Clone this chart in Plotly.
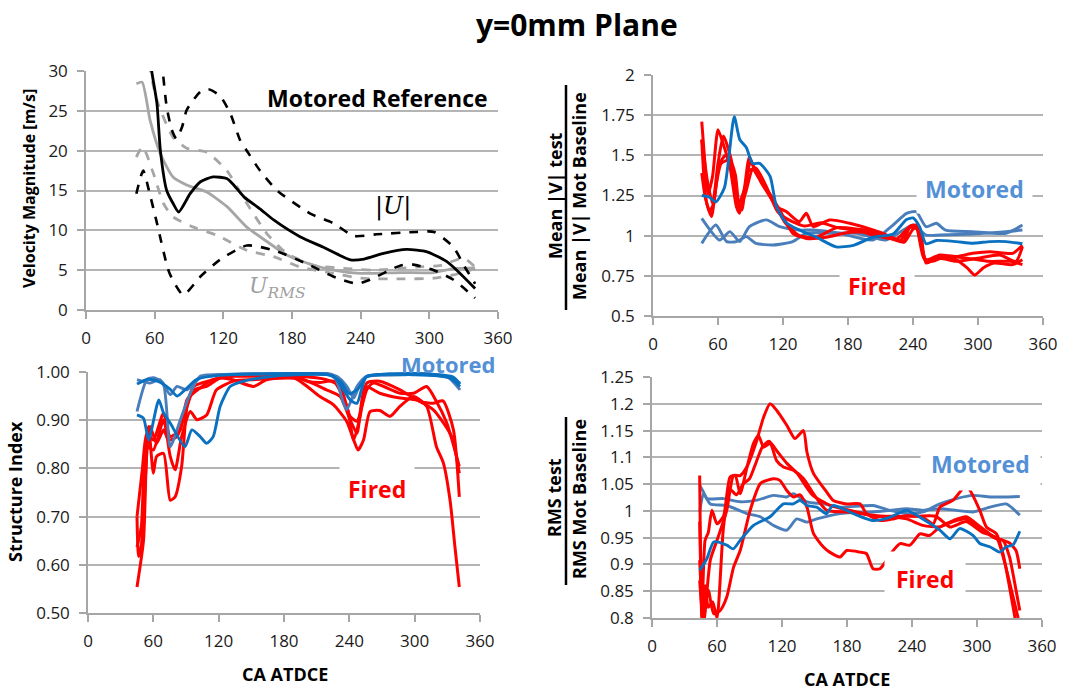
import plotly.graph_objects as go

W, H = 1082, 690

# ---------------- DATA ----------------
# Top-left: velocity magnitude [m/s], motored reference
tl_umean_x = [55, 57.4, 62, 65, 70.5, 76, 81, 91, 100, 111, 123, 129, 138, 152, 164, 187, 207, 231, 243, 260, 280, 298, 315, 324, 340]
tl_umean_y = [33, 30, 25.9, 20, 15, 13.4, 12.3, 14.6, 16.1, 16.7, 16.5, 15.7, 14.2, 12.7, 11.3, 9.2, 7.9, 6.3, 6.4, 7.1, 7.6, 7.3, 6.1, 5.0, 2.7]
tl_uhi_x = [62, 67, 70.5, 75, 79, 84, 88, 100, 107, 117, 126, 134.7, 140.5, 152, 167, 196, 216, 234, 254, 289, 304, 321, 331, 340]
tl_uhi_y = [36, 30, 25.5, 22.6, 21.5, 23, 25.1, 27.4, 27.7, 26.9, 24.7, 21.3, 20, 17.5, 15, 12.1, 10.9, 9.3, 9.5, 9.8, 9.8, 7.9, 5.4, 3.3]
tl_ulo_x = [44, 50, 55, 62, 73, 85, 100, 117, 140.5, 164, 193, 216, 237, 248, 275, 286, 304, 321, 340]
tl_ulo_y = [14.6, 17.5, 15, 10.9, 4.6, 1.9, 4.2, 6.3, 8.1, 7.5, 5.8, 4.2, 3.3, 3.8, 5.6, 5.7, 5.0, 3.8, 1.5]
tl_rms_x = [44, 49, 56, 65, 76, 88, 105.5, 123, 140.5, 158, 175.5, 193, 216, 240, 275, 304, 321, 340]
tl_rms_y = [28.4, 28.6, 23.8, 19.6, 16.7, 15.7, 14.8, 13, 10.4, 8.6, 6.9, 5.9, 5.0, 4.6, 4.7, 4.7, 5.2, 5.3]
tl_rmshi_x = [55, 62, 76, 88, 105.5, 123, 140.5, 158, 175.5, 199, 228, 251, 289, 310, 330, 340]
tl_rmshi_y = [31, 26.3, 21.7, 20.3, 19.8, 17.5, 13.4, 9.6, 7.1, 5.6, 5.2, 5.0, 5.4, 5.6, 6.5, 5.4]
tl_rmslo_x = [44, 49.5, 59, 67.6, 76, 94, 114, 140.5, 164, 187, 216, 240, 275, 304, 321, 340]
tl_rmslo_y = [19.2, 20.5, 17.1, 13.4, 11.7, 10.4, 9.4, 7.5, 6.7, 5.4, 4.6, 4.0, 3.9, 4.0, 4.4, 5.2]

# Top-right: mean |V| ratio
tr_mot_dark_x = [45, 52, 58, 66, 75, 80, 86, 92, 98.5, 108, 114, 123, 135, 151, 169, 185, 203, 221.5, 234, 240, 246, 252, 261.5, 280, 295, 311, 326, 341]
tr_mot_dark_y = [1.25, 1.24, 1.21, 1.30, 1.74, 1.60, 1.55, 1.45, 1.45, 1.37, 1.18, 1.08, 1.035, 0.99, 0.93, 0.94, 0.99, 1.01, 1.10, 1.11, 1.056, 0.95, 0.97, 0.963, 0.953, 0.963, 0.963, 0.95]
tr_mot_a_x = [45, 61.5, 71, 80, 89, 104.6, 117, 135, 148, 172, 203, 221.5, 234, 243, 252, 261.5, 270, 295, 326, 341]
tr_mot_a_y = [1.108, 0.973, 1.025, 0.963, 1.056, 1.098, 1.056, 1.035, 1.035, 1.015, 0.973, 1.066, 1.139, 1.149, 1.056, 1.077, 1.035, 1.025, 1.015, 1.066]
tr_mot_b_x = [45, 58, 68, 77, 86, 95, 111, 129, 141.5, 163, 188, 215, 231, 240, 252, 265, 295, 326, 341]
tr_mot_b_y = [0.952, 1.066, 0.963, 0.963, 0.994, 0.952, 0.942, 0.963, 1.015, 1.015, 1.015, 0.973, 1.035, 1.066, 1.004, 1.004, 1.01, 1.025, 1.035]
tr_fir1_x = [45, 47.7, 50.8, 55, 60, 64.6, 71, 77, 80, 84.6, 89, 95, 104.6, 114, 123, 135, 141.5, 148, 163, 181.5, 203, 218.5, 231, 237, 243, 252, 264.6, 280, 295, 311, 332, 341]
tr_fir1_y = [1.71, 1.47, 1.26, 1.37, 1.66, 1.575, 1.43, 1.18, 1.14, 1.305, 1.49, 1.39, 1.285, 1.18, 1.15, 1.087, 1.139, 1.056, 1.098, 1.077, 1.035, 0.994, 0.963, 1.056, 1.066, 0.85, 0.88, 0.87, 0.89, 0.90, 0.89, 0.94]
tr_fir2_x = [45, 49, 54, 58, 63, 71, 76, 80, 86, 92, 104, 117, 129, 141.5, 160, 180, 200, 220, 232, 240, 246, 252, 265, 280, 290, 297, 305, 315, 332, 341]
tr_fir2_y = [1.595, 1.22, 1.12, 1.30, 1.45, 1.47, 1.38, 1.16, 1.28, 1.41, 1.30, 1.16, 1.015, 0.983, 0.99, 1.02, 1.02, 0.98, 0.96, 1.04, 1.05, 0.83, 0.87, 0.85, 0.80, 0.755, 0.80, 0.83, 0.82, 0.85]
tr_fir3_x = [45, 48, 52, 56, 61, 67, 73, 79, 85, 90, 100, 112, 122, 135, 150, 170, 190, 210, 228, 237, 243, 250, 258, 270, 290, 310, 330, 341]
tr_fir3_y = [1.39, 1.25, 1.15, 1.20, 1.44, 1.50, 1.42, 1.20, 1.30, 1.46, 1.33, 1.20, 1.08, 1.00, 0.99, 1.05, 1.04, 1.02, 0.97, 1.05, 1.05, 0.86, 0.84, 0.87, 0.86, 0.84, 0.84, 0.82]
tr_fir4_x = [45, 50, 55, 60, 65, 72, 78, 82, 88, 95, 105, 115, 125, 140, 155, 170, 190, 205, 225, 238, 244, 252, 265, 280, 300, 320, 335, 341]
tr_fir4_y = [1.60, 1.35, 1.20, 1.45, 1.62, 1.48, 1.22, 1.16, 1.40, 1.42, 1.30, 1.15, 1.10, 1.06, 1.08, 1.05, 1.03, 1.00, 0.98, 1.06, 1.04, 0.84, 0.86, 0.84, 0.86, 0.88, 0.84, 0.93]

# Bottom-left: structure index
bl_mot_a_x = [45, 57, 66, 75.5, 81.7, 91, 103, 118, 140, 180, 210, 228.5, 237.7, 244, 250, 256, 290, 305, 332.5, 341.7]
bl_mot_a_y = [0.984, 0.977, 0.984, 0.953, 0.970, 0.963, 0.988, 0.994, 0.996, 0.997, 0.996, 0.991, 0.970, 0.946, 0.977, 0.991, 0.994, 0.997, 0.9875, 0.977]
bl_mot_b_x = [45, 54, 60, 69, 75.5, 84.7, 94, 103, 130, 180, 225, 234.6, 237.7, 247, 256, 300, 330, 341.7]
bl_mot_b_y = [0.918, 0.984, 0.988, 0.977, 0.845, 0.900, 0.956, 0.991, 0.995, 0.996, 0.994, 0.935, 0.922, 0.970, 0.991, 0.996, 0.99, 0.963]
bl_mot_c_x = [45, 51, 55.7, 65, 69.4, 75.5, 89, 95.4, 103, 109, 115, 121.4, 130.6, 143, 158, 180, 225, 234.6, 240.7, 247, 256, 300, 332, 341.7]
bl_mot_c_y = [0.911, 0.904, 0.859, 0.942, 0.915, 0.894, 0.845, 0.880, 0.866, 0.852, 0.866, 0.929, 0.970, 0.981, 0.9875, 0.993, 0.992, 0.963, 0.942, 0.935, 0.991, 0.994, 0.988, 0.970]
bl_mot_d_x = [45, 55, 65, 75, 82, 90, 100, 120, 160, 220, 232, 240, 248, 256, 300, 335, 341.7]
bl_mot_d_y = [0.975, 0.985, 0.98, 0.965, 0.95, 0.965, 0.985, 0.993, 0.996, 0.995, 0.98, 0.955, 0.965, 0.99, 0.997, 0.99, 0.975]
bl_fir1_x = [45, 51, 54, 57, 63, 69.4, 74, 81.7, 91, 97, 109, 121.4, 133, 152, 164, 190, 213, 225.5, 237.7, 244, 248, 253, 259, 268, 277.5, 286.6, 299, 311, 320, 326.4, 332.5, 337, 341]
bl_fir1_y = [0.554, 0.651, 0.838, 0.887, 0.852, 0.880, 0.859, 0.866, 0.929, 0.963, 0.970, 0.9875, 0.984, 0.970, 0.984, 0.987, 0.949, 0.932, 0.897, 0.859, 0.838, 0.859, 0.918, 0.92, 0.908, 0.929, 0.949, 0.929, 0.845, 0.811, 0.734, 0.637, 0.554]
bl_fir2_x = [45, 46.5, 49, 53, 55.7, 60, 63, 69.4, 75.5, 80, 86, 91, 97, 115, 133.7, 180, 190, 201, 213, 225.5, 237.7, 244, 250, 256, 268, 286.6, 304.7, 317, 326, 335.6, 341]
bl_fir2_y = [0.70, 0.617, 0.64, 0.79, 0.887, 0.79, 0.825, 0.831, 0.734, 0.741, 0.804, 0.929, 0.970, 0.984, 0.9945, 0.992, 0.992, 0.981, 0.978, 0.981, 0.929, 0.859, 0.908, 0.977, 0.981, 0.963, 0.939, 0.935, 0.94, 0.880, 0.741]
bl_fir3_x = [45, 49, 54, 60, 69.4, 75.5, 80, 86, 94, 100, 109, 118, 133.7, 152, 194, 219, 231.6, 240.7, 247, 254.5, 268, 286.6, 302, 317, 329.5, 335, 341]
bl_fir3_y = [0.637, 0.68, 0.845, 0.838, 0.901, 0.825, 0.797, 0.866, 0.918, 0.901, 0.911, 0.963, 0.981, 0.984, 0.987, 0.963, 0.949, 0.901, 0.873, 0.970, 0.956, 0.946, 0.942, 0.922, 0.884, 0.86, 0.79]
bl_fir4_x = [45, 50, 54, 60, 69.4, 75.5, 84.7, 91, 103, 115, 134, 164, 194, 219, 231.6, 240.7, 247, 256, 262, 286.6, 299, 311, 320, 329.5, 341]
bl_fir4_y = [0.70, 0.80, 0.873, 0.859, 0.915, 0.866, 0.880, 0.943, 0.967, 0.984, 0.991, 0.991, 0.991, 0.984, 0.970, 0.908, 0.898, 0.963, 0.977, 0.956, 0.956, 0.970, 0.939, 0.894, 0.804]

# Bottom-right: RMS ratio
br_mot_a_x = [44, 47.6, 50.7, 66, 81.4, 97, 112, 124, 130.5, 143, 158, 173.6, 204, 219.6, 235, 250, 265.7, 281, 296.5, 312, 327, 339.5]
br_mot_a_y = [1.048, 1.035, 1.023, 1.023, 1.017, 1.02, 1.029, 1.026, 1.032, 1.017, 1.013, 1.007, 1.01, 1.001, 0.995, 0.998, 1.013, 1.023, 1.029, 1.026, 1.026, 1.027]
br_mot_b_x = [44, 47.6, 53.8, 69, 87.5, 100, 112, 124.4, 133.6, 143, 152, 173.6, 204, 219.6, 235, 250, 265.7, 281, 296.5, 312, 327, 339.5]
br_mot_b_y = [0.998, 1.032, 1.013, 1.01, 0.995, 0.989, 0.973, 0.964, 0.985, 0.979, 0.985, 0.995, 0.998, 1.001, 1.004, 1.001, 1.004, 1.001, 0.998, 1.007, 1.013, 0.992]
br_mot_c_x = [44, 50.7, 57, 69, 75, 81.4, 93.7, 109, 121.3, 130.5, 136.7, 143, 152, 161, 167, 189, 204, 219.6, 235, 250, 265.7, 275, 284, 296.5, 302.6, 311.8, 321, 327, 333, 339.5]
br_mot_c_y = [0.889, 0.911, 0.942, 0.936, 0.929, 0.945, 0.973, 0.989, 1.013, 1.013, 1.020, 1.010, 1.007, 0.995, 1.010, 0.992, 0.982, 0.988, 1.001, 0.985, 0.964, 0.948, 0.967, 0.954, 0.939, 0.933, 0.923, 0.933, 0.936, 0.962]
br_fir1_x = [44, 47.6, 53.8, 60, 69, 75.3, 81.4, 87.5, 96.8, 103, 109, 115, 124.4, 132, 139.8, 143, 149, 161.3, 167, 179.7, 192, 198, 210.4, 222.7, 235, 250, 259.6, 265.7, 278, 288.8, 293, 302.6, 308.7, 318, 324, 330, 336]
br_fir1_y = [0.870, 0.79, 0.908, 0.945, 1.001, 1.066, 1.066, 1.082, 1.132, 1.175, 1.200, 1.188, 1.160, 1.135, 1.150, 1.11, 1.07, 1.035, 1.020, 1.013, 1.013, 0.995, 0.982, 0.985, 0.991, 0.988, 0.976, 1.007, 1.020, 1.045, 1.04, 1.001, 0.970, 0.957, 0.920, 0.858, 0.79]
br_fir2_x = [44, 46, 49, 52, 55.3, 60, 66, 72, 76.8, 81.4, 87.5, 93.7, 98.3, 103, 109, 115, 121.3, 130.5, 140, 149, 161.3, 180, 192, 204, 219.6, 235, 250, 265.7, 278, 290, 302, 314.9, 324, 330, 336, 339.5]
br_fir2_y = [1.066, 0.80, 0.945, 0.96, 1.001, 0.976, 0.99, 1.063, 1.066, 1.032, 1.08, 1.126, 1.141, 1.119, 1.126, 1.094, 1.082, 1.076, 1.06, 1.032, 1.001, 0.998, 0.995, 0.992, 0.989, 0.985, 0.973, 0.970, 0.98, 0.985, 0.97, 0.951, 0.945, 0.94, 0.926, 0.892]
br_fir3_x = [44, 47.6, 52, 57, 63, 69, 75.3, 81.4, 90.6, 100, 112, 118, 124.4, 130.5, 136.7, 143, 149, 158, 164, 173.6, 179.7, 192, 198, 204, 210.4, 216.6, 222.7, 229, 238, 247.3, 256, 265.7, 278, 290, 302, 311.8, 318, 324, 330, 336, 339.5]
br_fir3_y = [0.908, 0.80, 0.852, 0.808, 0.814, 0.839, 0.895, 0.926, 1.001, 1.051, 1.060, 1.057, 1.038, 1.026, 1.03, 1.007, 0.958, 0.933, 0.923, 0.914, 0.926, 0.923, 0.920, 0.892, 0.892, 0.908, 0.926, 0.939, 0.936, 0.957, 0.954, 0.970, 0.982, 0.989, 0.972, 0.957, 0.948, 0.945, 0.914, 0.852, 0.814]
br_fir4_x = [44, 46.5, 49, 52, 56, 60, 66, 72, 78, 84, 90, 96, 102, 108, 116, 124, 134, 148, 165, 185, 205, 225, 245, 262, 275, 290, 305, 318, 326, 332, 338]
br_fir4_y = [0.98, 0.80, 0.86, 0.82, 0.83, 0.80, 0.97, 1.04, 1.03, 1.05, 1.06, 1.09, 1.12, 1.13, 1.11, 1.09, 1.07, 1.03, 1.01, 1.0, 0.99, 0.99, 0.99, 0.99, 0.97, 0.98, 0.96, 0.95, 0.90, 0.85, 0.80]

# tick labels
x_ticks = [0, 60, 120, 180, 240, 300, 360]
tl_yticks = [0, 5, 10, 15, 20, 25, 30]
tr_yticks = [0.5, 0.75, 1, 1.25, 1.5, 1.75, 2]
tr_ytext = ["0.5", "0.75", "1", "1.25", "1.5", "1.75", "2"]
bl_yticks = [0.5, 0.6, 0.7, 0.8, 0.9, 1.0]
bl_ytext = ["0.50", "0.60", "0.70", "0.80", "0.90", "1.00"]
br_yticks = [0.8, 0.85, 0.9, 0.95, 1.0, 1.05, 1.1, 1.15, 1.2, 1.25]
br_ytext = ["0.8", "0.85", "0.9", "0.95", "1", "1.05", "1.1", "1.15", "1.2", "1.25"]

# ---------------- STYLE ----------------
RED = "#FF0000"
DARKBLUE = "#0A70C0"
STEEL = "#4A7EBB"
MOTTXT = "#5490D6"
BLACK = "#000000"
GREY = "#A6A6A6"
FONT = "Open Sans"


def px(x):
    return x / W


def py(y):
    return 1 - y / H


fig = go.Figure()


def add(x, y, xa, ya, color, width=2.9, dash="solid", shape="spline"):
    fig.add_trace(go.Scatter(x=x, y=y, xaxis=xa, yaxis=ya, mode="lines",
                             line=dict(color=color, width=width, dash=dash, shape=shape, smoothing=0.6),
                             showlegend=False, hoverinfo="skip"))


# TL
add(tl_rmshi_x, tl_rmshi_y, "x", "y", GREY, 2.8, "dash")
add(tl_rmslo_x, tl_rmslo_y, "x", "y", GREY, 2.8, "dash")
add(tl_rms_x, tl_rms_y, "x", "y", GREY, 2.8)
add(tl_uhi_x, tl_uhi_y, "x", "y", BLACK, 2.6, "dash")
add(tl_ulo_x, tl_ulo_y, "x", "y", BLACK, 2.6, "dash")
add(tl_umean_x, tl_umean_y, "x", "y", BLACK, 2.8)

# TR
add(tr_mot_a_x, tr_mot_a_y, "x2", "y2", STEEL)
add(tr_mot_b_x, tr_mot_b_y, "x2", "y2", STEEL)
for xs, ys in [(tr_fir1_x, tr_fir1_y), (tr_fir2_x, tr_fir2_y), (tr_fir3_x, tr_fir3_y), (tr_fir4_x, tr_fir4_y)]:
    add(xs, ys, "x2", "y2", RED, 3)
add(tr_mot_dark_x, tr_mot_dark_y, "x2", "y2", DARKBLUE)

# BL
for xs, ys in [(bl_fir1_x, bl_fir1_y), (bl_fir2_x, bl_fir2_y), (bl_fir3_x, bl_fir3_y), (bl_fir4_x, bl_fir4_y)]:
    add(xs, ys, "x3", "y3", RED, 3)
add(bl_mot_a_x, bl_mot_a_y, "x3", "y3", STEEL)
add(bl_mot_b_x, bl_mot_b_y, "x3", "y3", STEEL)
add(bl_mot_d_x, bl_mot_d_y, "x3", "y3", DARKBLUE)
add(bl_mot_c_x, bl_mot_c_y, "x3", "y3", DARKBLUE)

# BR
add(br_mot_a_x, br_mot_a_y, "x4", "y4", STEEL)
add(br_mot_b_x, br_mot_b_y, "x4", "y4", STEEL)
for xs, ys in [(br_fir1_x, br_fir1_y), (br_fir2_x, br_fir2_y), (br_fir3_x, br_fir3_y), (br_fir4_x, br_fir4_y)]:
    add(xs, ys, "x4", "y4", RED, 3)
add(br_mot_c_x, br_mot_c_y, "x4", "y4", DARKBLUE)

tickfont = dict(family=FONT, size=17, color="#1a1a1a")


def xax(domain, anchor):
    return dict(domain=domain, anchor=anchor, range=[0, 360], tickvals=x_ticks,
                ticks="outside", ticklen=7, tickcolor=GREY, tickwidth=1.5,
                showline=True, linecolor=GREY, linewidth=1.5, showgrid=False,
                zeroline=False, tickfont=tickfont, ticklabelstandoff=5,
                automargin=False, fixedrange=True)


def yax(domain, anchor, rng, vals, text=None):
    d = dict(domain=domain, anchor=anchor, range=rng, tickvals=vals,
             ticks="outside", ticklen=7, tickcolor=GREY, tickwidth=1.5,
             showline=True, linecolor=GREY, linewidth=1.5, showgrid=True,
             gridcolor="#B4B4B4", gridwidth=1.5, zeroline=False, tickfont=tickfont,
             ticklabelstandoff=6, automargin=False, fixedrange=True)
    if text is not None:
        d["ticktext"] = text
    return d


layout = dict(
    width=W, height=H, margin=dict(l=0, r=0, t=0, b=0, pad=0), autosize=False,
    paper_bgcolor="white", plot_bgcolor="white", showlegend=False,
    xaxis=xax([px(86), px(498)], "y"),
    yaxis=yax([py(310), py(71)], "x", [0, 30], tl_yticks),
    xaxis2=xax([px(653), px(1043)], "y2"),
    yaxis2=yax([py(316), py(75)], "x2", [0.5, 2], tr_yticks, tr_ytext),
    xaxis3=xax([px(88), px(480)], "y3"),
    yaxis3=yax([py(613), py(372)], "x3", [0.5, 1.0], bl_yticks, bl_ytext),
    xaxis4=xax([px(652), px(1042)], "y4"),
    yaxis4=yax([py(618), py(377)], "x4", [0.8, 1.25], br_yticks, br_ytext),
)
fig.update_layout(**layout)

ann = []


def A(text, x, y, size, color=BLACK, angle=0, bg=None, pad=0, fam=FONT):
    d = dict(text=text, x=px(x), y=py(y), xref="paper", yref="paper", showarrow=False,
             xanchor="center", yanchor="middle", textangle=angle,
             font=dict(family=fam, size=size, color=color))
    if bg:
        d["bgcolor"] = bg
        d["borderpad"] = pad
    ann.append(d)


A("<b>y=0mm Plane</b>", 577, 24, 30)
# TL
A("<b>Velocity Magnitude [m/s]</b>", 29, 189, 16, angle=-90)
A("<b>Motored Reference</b>", 377, 98, 23)
A("<i>|U|</i>", 393, 206, 24, fam="DejaVu Serif")
A("<i>U</i><sub><i>RMS</i></sub>", 277, 287, 22, color="#A0A0A0", fam="DejaVu Serif")
# TR
A("<b>Mean |V| test</b>", 555, 196, 18, angle=-90)
A("<b>Mean |V| Mot Baseline</b>", 579, 196, 18, angle=-90)
A("<b>Motored</b>", 974, 189, 23, color=MOTTXT, bg="white", pad=8)
A("<b>Fired</b>", 877, 286, 23, color=RED, bg="white", pad=8)
# BL
A("<b>Structure Index</b>", 15, 492, 18, angle=-90)
A("<b>Motored</b>", 448, 364, 22, color=MOTTXT)
A("<b>Fired</b>", 377, 489, 23, color=RED, bg="white", pad=8)
A("<b>CA ATDCE</b>", 285, 674, 18)
# BR
A("<b>RMS test</b>", 554, 498, 18, angle=-90)
A("<b>RMS Mot Baseline</b>", 579, 499, 18, angle=-90)
A("<b>Motored</b>", 980, 464, 23, color=MOTTXT, bg="white", pad=10)
A("<b>Fired</b>", 925, 579, 23, color=RED, bg="white", pad=11)
A("<b>CA ATDCE</b>", 847, 679, 18)

fig.update_layout(annotations=ann)

shapes = [
    dict(type="line", xref="paper", yref="paper", x0=px(566), x1=px(566), y0=py(85), y1=py(310),
         line=dict(color=BLACK, width=2.5)),
    dict(type="line", xref="paper", yref="paper", x0=px(566), x1=px(566), y0=py(417), y1=py(585),
         line=dict(color=BLACK, width=2.5)),
]
fig.update_layout(shapes=shapes)

fig.write_html("out.html", config={"displayModeBar": False},
               post_script="document.body.style.margin='0';document.body.style.overflow='hidden';")
